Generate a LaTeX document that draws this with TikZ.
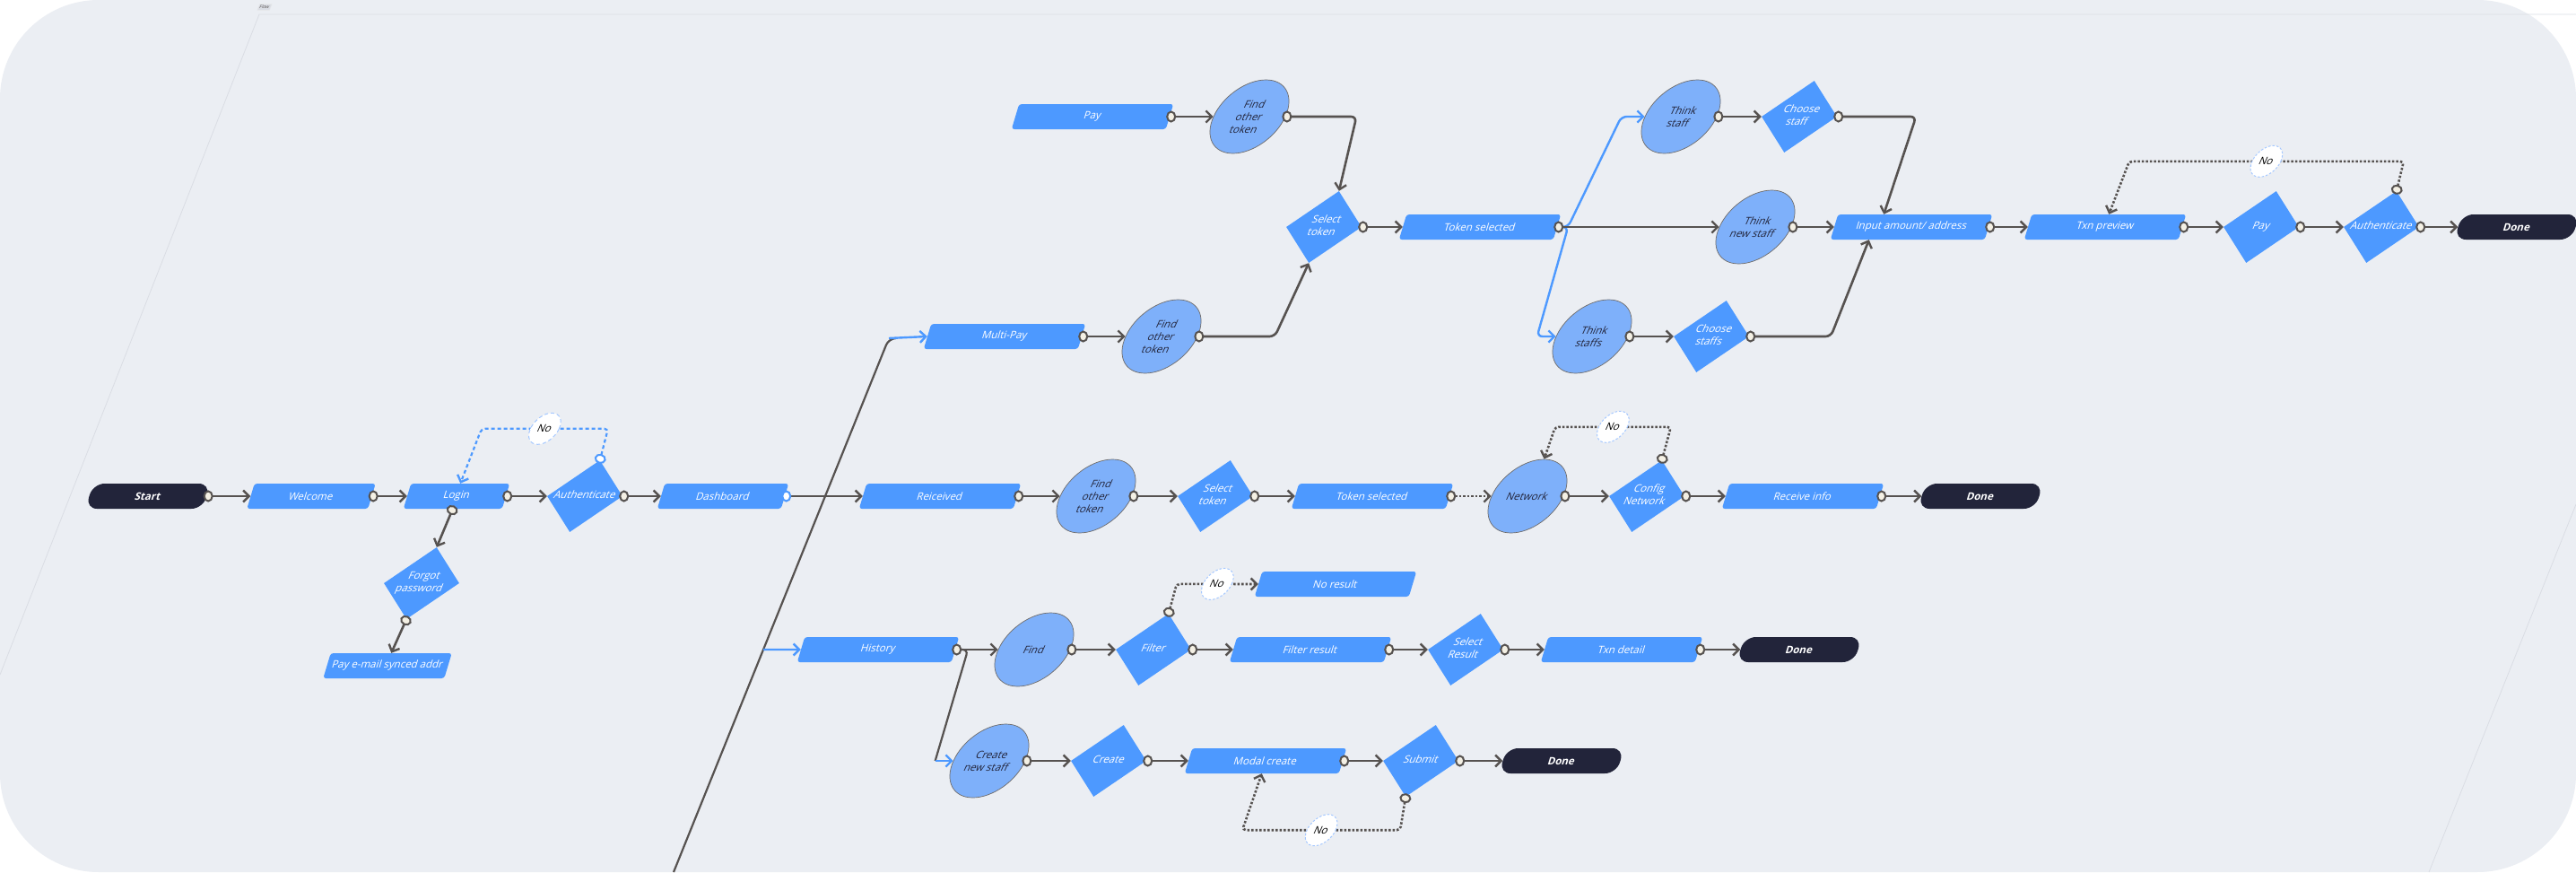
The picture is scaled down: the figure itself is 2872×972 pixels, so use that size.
\documentclass[tikz,border=0pt]{standalone}
\usepackage{fontspec}
\setmainfont{Open Sans}
\usetikzlibrary{shapes.geometric, arrows.meta, calc}
\definecolor{FlowBG}{RGB}{235,238,243}
\definecolor{FlowBlue}{RGB}{77,153,255}
\definecolor{StaffBlue}{RGB}{126,176,250}
\definecolor{TermDark}{RGB}{34,36,58}
\definecolor{WireGray}{RGB}{86,82,80}
\definecolor{PortCream}{RGB}{244,240,228}
\definecolor{NoRing}{RGB}{165,200,255}
\definecolor{FrameGray}{RGB}{218,221,228}
\newcommand{\boxw}{172pt}
\newcommand{\rowh}{28pt}
\newcommand{\dlabel}[1]{\makebox[0pt]{\begin{tabular}{@{}c@{}}#1\end{tabular}}}
\tikzset{flowfont/.style={font=\fontsize{11.5}{14}\selectfont}}
\tikzset{proc/.style={rectangle, rounded corners=3pt, fill=FlowBlue, minimum width=\boxw, minimum height=\rowh, inner sep=1pt, xslant=.3, text=white, flowfont}}
\tikzset{term/.style={rectangle, rounded corners=13pt, fill=TermDark, minimum width=131pt, minimum height=\rowh, inner sep=1pt, xslant=.3, text=white, font=\fontsize{11.5}{14}\selectfont\bfseries}}
\tikzset{dec/.style={diamond, fill=FlowBlue, minimum width=84pt, minimum height=80pt, inner sep=0pt, xslant=.42, text=white, flowfont}}
\tikzset{think/.style={ellipse, fill=StaffBlue, draw=WireGray!85, line width=.7pt, minimum width=80pt, minimum height=82pt, inner sep=0pt, xslant=.45, text=TermDark, align=center, flowfont}}
\tikzset{noval/.style={ellipse, fill=white, draw=NoRing, line width=1pt, minimum width=32pt, minimum height=35pt, inner sep=0pt, xslant=.45, text=black, flowfont}}
\tikzset{port/.tip={Circle[fill=PortCream, length=11pt, width=13pt, line width=2pt]}}
\tikzset{bport/.tip={Circle[color=FlowBlue, fill=white, length=11pt, width=13pt, line width=2pt]}}
\tikzset{barb/.tip={Straight Barb[length=6.5pt, width=13pt, line width=2.4pt]}}
\tikzset{wire/.style={draw=WireGray, line width=2.6pt, shorten <=-4pt, {port}-{barb}}}
\tikzset{dotwire/.style={wire, dash pattern=on 2.5pt off 2pt, rounded corners=4pt}}
\tikzset{trunk/.style={draw=WireGray, line width=2.2pt}}
\tikzset{bluearrow/.style={draw=FlowBlue, line width=2.4pt, -{barb}}}

\begin{document}
\begin{tikzpicture}[x=1pt, y=-1pt]

  % --- canvas ---
  \useasboundingbox (0,0) rectangle (2872,972);
  \fill[white] (0,0) rectangle (2872,972);
  \fill[FlowBG, rounded corners=110pt] (0,0) rectangle (2872,972);
  \draw[FrameGray, line width=.8pt] (0,752) -- (289,16) -- (2872,16);
  \draw[FrameGray, line width=.8pt] (2708,972) -- (2872,562);
  \node[rectangle, fill=FrameGray, draw=FrameGray!80!black!30, xslant=.4, inner sep=1.5pt,
        font=\fontsize{5}{6}\selectfont, text=WireGray] (flow) at (295,8) {Flow};

  % --- login row ---
  \node[term] (start) at (165,553) {Start};
  \node[proc, minimum width=135pt] (welcome) at (347,553) {Welcome};
  \node[proc, minimum width=110pt] (login) at (509,553) {Login};
  \node[dec] (auth) at (652,553) {\dlabel{Authenticate}};
  \node[proc, minimum width=138pt] (dash) at (806,553) {Dashboard};
  \node[dec] (forgot) at (470,650) {\dlabel{Forgot\\password}};
  \node[proc, minimum width=135pt] (payemail) at (432,742) {Pay e-mail synced addr};

  % --- receive row ---
  \node[proc] (recv) at (1048,553) {Reiceived};
  \node[think] (findrecv) at (1222,553) {Find\\other\\token};
  \node[dec] (selrecv) at (1355,553) {\dlabel{Select\\token}};
  \node[proc] (tokrecv) at (1530,553) {Token selected};
  \node[think] (network) at (1703,553) {Network};
  \node[dec] (config) at (1836,553) {\dlabel{Config\\Network}};
  \node[proc] (rinfo) at (2010,553) {Receive info};
  \node[term] (donerecv) at (2208,553) {Done};

  % --- pay rows ---
  \node[proc] (pay) at (1218,130) {Pay};
  \node[think] (findpay) at (1393,130) {Find\\other\\token};
  \node[proc] (multipay) at (1120,375) {Multi-Pay};
  \node[think] (findmulti) at (1295,375) {Find\\other\\token};
  \node[dec] (selpay) at (1476,253) {\dlabel{Select\\token}};
  \node[proc] (tokpay) at (1650,253) {Token selected};
  \node[think] (staff) at (1874,130) {Think\\staff};
  \node[dec] (choosestaff) at (2006,130) {\dlabel{Choose\\staff}};
  \node[think] (newstaff) at (1957,253) {Think\\new staff};
  \node[think] (staffs) at (1775,375) {Think\\staffs};
  \node[dec] (choosestaffs) at (1908,375) {\dlabel{Choose\\staffs}};
  \node[proc] (amount) at (2131,253) {Input amount/ address};
  \node[proc] (preview) at (2347,253) {Txn preview};
  \node[dec] (paydec) at (2521,253) {\dlabel{Pay}};
  \node[dec] (authpay) at (2655,253) {\dlabel{Authenticate}};
  \node[term] (donepay) at (2806,253) {Done};

  % --- history rows ---
  \node[proc] (history) at (979,724) {History};
  \node[think] (find) at (1153,724) {Find};
  \node[dec] (filter) at (1286,724) {\dlabel{Filter}};
  \node[proc] (noresult) at (1489,651) {No result};
  \node[proc] (fresult) at (1461,724) {Filter result};
  \node[dec] (selresult) at (1634,724) {\dlabel{Select\\Result}};
  \node[proc] (txndetail) at (1808,724) {Txn detail};
  \node[term] (donehist) at (2006,724) {Done};
  \node[think] (createnew) at (1103,848) {Create\\new staff};
  \node[dec] (create) at (1236,848) {\dlabel{Create}};
  \node[proc] (modal) at (1411,848) {Modal create};
  \node[dec] (submit) at (1584,848) {\dlabel{Submit}};
  \node[term] (donecreate) at (1741,848) {Done};

  % --- login links ---
  \draw[wire] (start.east) -- (welcome.west);
  \draw[wire] (welcome.east) -- (login.west);
  \draw[wire] (login.east) -- (auth.west);
  \draw[wire] (auth.east) -- (dash.west);
  \draw[wire] (login.south) -- (forgot.north);
  \draw[wire] (forgot.south) -- (payemail.north);
  \draw[wire, draw=FlowBlue, dash pattern=on 4pt off 3pt, line width=2.2pt, rounded corners=4pt, {bport}-{barb}]
    (auth.north) -- ++(9,-35) -- node[noval] (nologin) {No} ++(-141,0) -- (login.north);

  % --- dashboard trunk ---
  \coordinate (tbot) at (751,972);
  \coordinate (ttop) at (991,377);
  \coordinate (htap) at ($(tbot)!0.4168!(ttop)$);
  \draw[trunk, rounded corners=8pt] (tbot) -- (ttop) -- ++(6,0);
  \draw[bluearrow] (ttop) -- (multipay.west);
  \draw[bluearrow] (htap) -- (history.west);
  \draw[wire, {bport}-{barb}] (dash.east) -- (recv.west);

  % --- receive links ---
  \draw[wire] (recv.east) -- (findrecv.west);
  \draw[wire] (findrecv.east) -- (selrecv.west);
  \draw[wire] (selrecv.east) -- (tokrecv.west);
  \draw[dotwire] (tokrecv.east) -- (network.west);
  \draw[wire] (network.east) -- (config.west);
  \draw[wire] (config.east) -- (rinfo.west);
  \draw[wire] (rinfo.east) -- (donerecv.west);
  \draw[dotwire] (config.north) -- ++(10,-37) -- node[noval] (nonet) {No} ++(-129,0) -- (network.north);

  % --- pay links ---
  \draw[wire] (pay.east) -- (findpay.west);
  \draw[wire, rounded corners=6pt] (findpay.east) -- ++(79,0) -- (selpay.north);
  \draw[wire] (multipay.east) -- (findmulti.west);
  \draw[wire, rounded corners=6pt] (findmulti.east) -- ++(86,0) -- (selpay.south);
  \draw[wire] (selpay.east) -- (tokpay.west);
  \draw[bluearrow, rounded corners=6pt] (tokpay.east) -- ++(12,0) -- ($(staff.west)+(-26,0)$) -- (staff.west);
  \draw[bluearrow, rounded corners=6pt] (tokpay.east) -- ++(12,0) -- ($(staffs.west)+(-21,0)$) -- (staffs.west);
  \draw[wire] (tokpay.east) -- (newstaff.west);
  \draw[wire] (staff.east) -- (choosestaff.west);
  \draw[wire, rounded corners=6pt] (choosestaff.east) -- ++(88,0) -- ([xshift=-35pt]amount.north);
  \draw[wire] (newstaff.east) -- (amount.west);
  \draw[wire] (staffs.east) -- (choosestaffs.west);
  \draw[wire, rounded corners=6pt] (choosestaffs.east) -- ++(91,0) -- ([xshift=-43pt]amount.south);
  \draw[wire] (amount.east) -- (preview.west);
  \draw[wire] (preview.east) -- (paydec.west);
  \draw[wire] (paydec.east) -- (authpay.west);
  \draw[wire] (authpay.east) -- (donepay.west);
  \draw[dotwire] (authpay.north) -- ++(8,-33) -- node[noval] (nopay) {No} ++(-306,0) -- (preview.north);

  % --- history links ---
  \draw[trunk, rounded corners=6pt] (history.east) -- ++(14,0) -- ($(createnew.west)+(-20,0)$);
  \draw[bluearrow] ($(createnew.west)+(-20,0)$) -- (createnew.west);
  \draw[wire] (history.east) -- (find.west);
  \draw[wire] (find.east) -- (filter.west);
  \draw[wire] (filter.east) -- (fresult.west);
  \draw[wire] (fresult.east) -- (selresult.west);
  \draw[wire] (selresult.east) -- (txndetail.west);
  \draw[wire] (txndetail.east) -- (donehist.west);
  \draw[dotwire] (filter.north) -- ++(9,-33) -- node[noval] (nofilter) {No} (noresult.west);
  \draw[wire] (createnew.east) -- (create.west);
  \draw[wire] (create.east) -- (modal.west);
  \draw[wire] (modal.east) -- (submit.west);
  \draw[wire] (submit.east) -- (donecreate.west);
  \draw[dotwire] (submit.south) -- ++(-6,37) -- node[noval] (nosubmit) {No} ++(-176,0) -- (modal.south);

\end{tikzpicture}
\end{document}
